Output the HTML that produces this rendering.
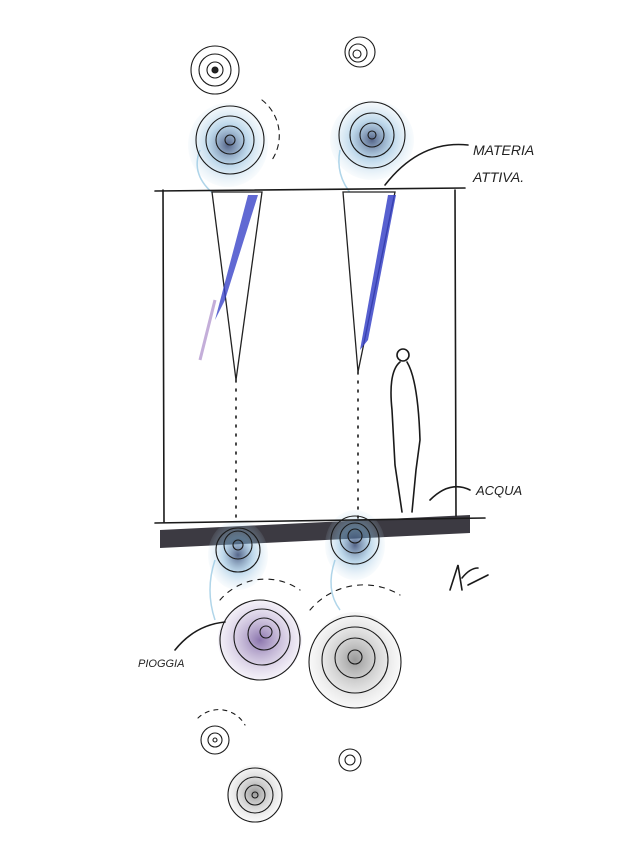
<!DOCTYPE html>
<html><head><meta charset="utf-8"><style>
html,body{margin:0;padding:0;background:#fff;width:643px;height:853px;overflow:hidden}
svg{display:block}
text{font-family:"Liberation Sans",sans-serif;fill:#222}
</style></head><body>
<svg width="643" height="853" viewBox="0 0 643 853" xmlns="http://www.w3.org/2000/svg">
<defs>
<radialGradient id="g1"><stop offset="0" stop-color="#2a3d6a" stop-opacity=".8"/><stop offset=".5" stop-color="#7fb3d8" stop-opacity=".5"/><stop offset="1" stop-color="#bcd9ec" stop-opacity=".1"/></radialGradient>
<radialGradient id="g2"><stop offset="0" stop-color="#555" stop-opacity=".6"/><stop offset="1" stop-color="#ccc" stop-opacity=".15"/></radialGradient>
<radialGradient id="g3"><stop offset="0" stop-color="#5a3a8a" stop-opacity=".7"/><stop offset="1" stop-color="#b9a6d4" stop-opacity=".15"/></radialGradient>
</defs>
<polygon points="160,530 470,515 470,533 160,548" fill="#3c3a42"/>
<!-- washes -->
<ellipse cx="228" cy="145" rx="40" ry="42" fill="url(#g1)"/>
<ellipse cx="372" cy="140" rx="42" ry="40" fill="url(#g1)"/>
<ellipse cx="238" cy="555" rx="30" ry="35" fill="url(#g1)"/>
<ellipse cx="355" cy="545" rx="30" ry="35" fill="url(#g1)"/>
<ellipse cx="260" cy="640" rx="42" ry="40" fill="url(#g3)"/>
<ellipse cx="355" cy="660" rx="45" ry="48" fill="url(#g2)"/>
<ellipse cx="255" cy="793" rx="28" ry="28" fill="url(#g2)"/>
<g stroke="#8fc3e0" stroke-width="1.5" fill="none" opacity=".7">
<path d="M200,150 Q190,175 215,195"/><path d="M340,150 Q335,175 352,195"/>
<path d="M215,560 Q205,590 215,620"/><path d="M335,560 Q325,590 340,610"/>
</g>
<!-- cones -->
<polygon points="212,192 262,192 236,380" fill="#fff" stroke="#222" stroke-width="1.3"/>
<path d="M248,195 L215,320 L225,300 L258,195Z" fill="#3a44c8" opacity=".8"/>
<path d="M215,300 L200,360" stroke="#8a5fb5" stroke-width="3" opacity=".5"/>
<polygon points="343,192 395,192 358,372" fill="#fff" stroke="#222" stroke-width="1.3"/>
<path d="M388,195 L360,350 L368,340 L396,195Z" fill="#3a44c8" opacity=".85"/>
<!-- frame -->
<g stroke="#1a1a1a" stroke-width="1.6" fill="none" stroke-linecap="round">
<path d="M155,191 L465,188"/>
<path d="M163,190 L164,522"/>
<path d="M455,190 L456,516"/>
<path d="M236,380 L236,520" stroke-dasharray="2 7"/>
<path d="M358,372 L358,518" stroke-dasharray="2 7"/>
<path d="M155,523 L485,518"/>
<circle cx="403" cy="355" r="6"/>
<path d="M400,362 Q388,372 392,410 L395,465 L402,512 M407,362 Q418,380 420,440 L416,470 L412,512"/>
<g stroke-width="1.1">
<circle cx="215" cy="70" r="24"/><circle cx="215" cy="70" r="16"/><circle cx="215" cy="70" r="8"/><circle cx="215" cy="70" r="3" fill="#222"/>
<circle cx="360" cy="52" r="15"/><circle cx="358" cy="53" r="9"/><circle cx="357" cy="54" r="4"/>
<circle cx="230" cy="140" r="34"/><circle cx="230" cy="140" r="24"/><circle cx="230" cy="140" r="14"/><circle cx="230" cy="140" r="5"/>
<path d="M262,100 A45,45 0 0 1 272,160" stroke-dasharray="5 5"/>
<circle cx="372" cy="135" r="33"/><circle cx="372" cy="135" r="22"/><circle cx="372" cy="135" r="12"/><circle cx="372" cy="135" r="4"/>
<circle cx="238" cy="550" r="22"/><circle cx="238" cy="545" r="14"/><circle cx="238" cy="545" r="5"/>
<circle cx="355" cy="540" r="24"/><circle cx="355" cy="538" r="15"/><circle cx="355" cy="536" r="7"/>
<circle cx="260" cy="640" r="40"/><circle cx="262" cy="637" r="28"/><circle cx="264" cy="634" r="16"/><circle cx="266" cy="632" r="6"/>
<circle cx="355" cy="662" r="46"/><circle cx="355" cy="660" r="33"/><circle cx="355" cy="658" r="20"/><circle cx="355" cy="657" r="7"/>
<path d="M220,600 A60,60 0 0 1 300,590" stroke-dasharray="5 6"/>
<path d="M310,610 A70,70 0 0 1 400,595" stroke-dasharray="5 6"/>
<circle cx="215" cy="740" r="14"/><circle cx="215" cy="740" r="7"/><circle cx="215" cy="740" r="2"/>
<path d="M198,718 A30,30 0 0 1 245,725" stroke-dasharray="4 5"/>
<circle cx="350" cy="760" r="11"/><circle cx="350" cy="760" r="5"/>
<circle cx="255" cy="795" r="27"/><circle cx="255" cy="795" r="18"/><circle cx="255" cy="795" r="10"/><circle cx="255" cy="795" r="3"/>
</g>
<path d="M468,145 Q420,140 385,185"/>
<path d="M430,500 Q450,480 470,490"/>
<path d="M175,650 Q195,625 225,622"/>
<path d="M450,590 L458,565 L462,590 M462,578 Q470,568 478,568 M468,585 Q478,580 488,575"/>
</g>
<text x="473" y="155" font-size="14" font-style="italic">MATERIA</text>
<text x="473" y="182" font-size="14" font-style="italic">ATTIVA.</text>
<text x="476" y="495" font-size="13" font-style="italic">ACQUA</text>
<text x="138" y="667" font-size="11" font-style="italic">PIOGGIA</text>
</svg>
</body></html>
